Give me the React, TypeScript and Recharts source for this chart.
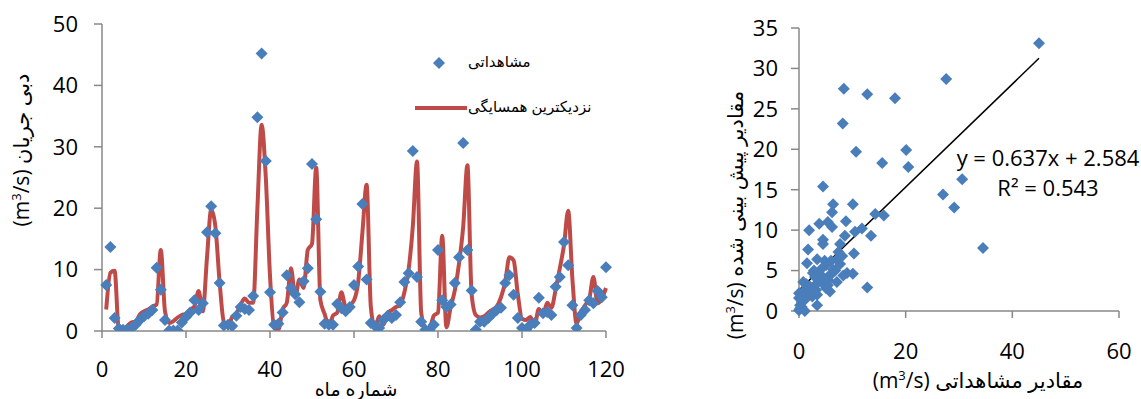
import { ComposedChart, ScatterChart, Scatter, Line, XAxis, YAxis, Legend, ReferenceLine } from "recharts"

// monthly discharge, observed vs nearest-neighbour estimate (months 1..120)
const observed = [
  7.5, 13.7, 2.1, 0.4, 0.2, 0.2, 0.5, 1.0, 1.8, 2.4,
  2.8, 3.4, 10.3, 6.7, 1.8, 0.1, 0.1, 0.1, 1.4, 2.3,
  3.0, 5.0, 3.4, 4.5, 16.1, 20.3, 15.9, 7.8, 0.9, 1.0,
  0.8, 2.5, 3.9, 3.6, 3.4, 5.7, 34.8, 45.2, 27.7, 6.3,
  1.0, 1.2, 3.0, 9.1, 7.0, 6.0, 4.7, 8.1, 10.2, 27.2,
  18.2, 6.4, 1.2, 1.0, 1.0, 4.4, 3.7, 3.2, 3.9, 7.5,
  10.5, 20.7, 8.4, 1.3, 0.8, 0.5, 1.8, 2.5, 2.1, 2.6,
  4.7, 8.0, 9.4, 29.3, 8.8, 1.5, 0.2, 0.2, 1.0, 13.2,
  5.0, 3.9, 4.3, 7.8, 12.0, 30.6, 13.2, 6.6, 0.2, 1.5,
  1.5, 2.1, 2.8, 3.4, 3.8, 7.8, 9.1, 5.9, 2.1, 0.5,
  0.2, 1.0, 1.3, 5.4, 2.9, 3.1, 2.6, 7.2, 8.8, 14.5,
  10.7, 4.2, 0.5, 2.6, 3.4, 5.0, 4.5, 6.5, 5.5, 10.4,
]

const predicted = [
  3.5, 9.5, 9.8, 0.3, 0.2, 0.8, 1.4, 1.5, 2.7, 3.2,
  3.5, 4.0, 4.3, 13.2, 3.2, 1.3, 1.6, 2.2, 2.6, 2.8,
  3.5, 4.0, 6.5, 3.2, 12.0, 19.8, 17.0, 8.0, 1.5, 0.8,
  2.3, 2.8, 4.3, 5.3, 4.6, 4.6, 20.0, 33.6, 25.0, 9.0,
  0.5, 0.2, 3.5, 4.6, 10.2, 5.5, 8.4, 7.0, 13.2, 14.2,
  26.6, 5.0, 2.8, 0.8, 2.5, 3.0, 6.3, 4.0, 4.2, 5.0,
  8.0, 16.0, 23.8, 4.0, 0.5, 2.4, 1.0, 2.9, 3.4, 3.9,
  4.2, 6.3, 10.0, 17.0, 27.6, 3.0, 0.4, 0.5, 2.5, 3.0,
  15.5, 0.6, 3.8, 6.6, 11.0, 17.0, 27.0, 6.0, 2.6, 2.2,
  2.4, 3.0, 3.5, 4.0, 5.5, 8.0, 12.0, 11.5, 6.0, 2.0,
  1.8, 2.3, 0.9, 3.6, 2.6, 4.6, 3.8, 6.7, 10.2, 14.0,
  19.6, 8.5, 1.2, 3.0, 4.2, 5.2, 8.8, 4.5, 5.3, 7.0,
]

const monthTicks = [0, 20, 40, 60, 80, 100, 120]
const flowTicks = [0, 10, 20, 30, 40, 50]

// scatter of observed (x) vs predicted (y)
const scatterObs = [
  45.0, 27.6, 8.4, 12.8, 18.0, 8.2, 10.7, 20.1, 15.6, 20.5,
  4.5, 30.6, 27.0, 29.1, 34.5, 6.4, 6.2, 10.1, 14.3, 15.9,
  3.8, 5.4, 6.2, 8.8, 1.9, 11.8, 10.5, 8.6, 13.5, 4.5,
  4.5, 7.7, 1.7, 10.3, 8.1, 3.4, 7.1, 1.5, 5.1, 7.7,
  4.3, 6.4, 9.0, 10.1, 2.6, 5.4, 7.1, 0.8, 4.3, 2.1,
  5.1, 0.0, 0.8, 3.4, 12.8, 0.0, 1.1, 3.4, 0.2, 0.0,
  1.1, 0.5, 1.7, 5.4, 8.3, 2.0, 3.0, 2.5, 1.0, 0.5,
  4.0, 5.5, 6.0, 3.6, 6.8, 4.8, 2.8, 0.3, 1.4, 3.2,
  0.2, 6.0, 7.4, 3.0, 5.8,
]
const scatterPred = [
  33.1, 28.7, 27.5, 26.8, 26.3, 23.2, 19.7, 19.9, 18.3, 17.8,
  15.4, 16.3, 14.4, 12.8, 7.8, 13.2, 12.2, 13.2, 12.0, 11.8,
  10.8, 11.0, 10.4, 11.1, 10.0, 10.2, 9.8, 9.3, 9.3, 8.8,
  8.3, 8.3, 7.6, 7.1, 6.8, 6.4, 6.4, 5.9, 5.7, 5.8,
  5.3, 5.1, 4.7, 4.6, 4.7, 4.2, 3.6, 3.6, 3.5, 3.0,
  2.8, 2.2, 2.4, 2.0, 2.9, 1.6, 1.4, 0.7, 0.7, 0.1,
  0.0, 1.1, 2.8, 3.2, 4.4, 2.5, 3.2, 1.8, 2.0, 0.5,
  4.5, 3.8, 4.5, 4.0, 5.0, 6.2, 5.0, 1.5, 3.3, 2.6,
  0.3, 6.2, 7.3, 4.2, 2.4,
]
const obsTicks = [0, 20, 40, 60]
const predTicks = [0, 5, 10, 15, 20, 25, 30, 35]

const slope = 0.637
const intercept = 2.584
const r2 = 0.543
const fitRange = [0, 45]

const series = observed.map((v, i) => ({ month: i + 1, obs: v, pred: predicted[i] }))
const points = scatterObs.map((x, i) => ({ x, y: scatterPred[i] }))

const BLUE = "#4A7EBB"
const RED = "#BE4B48"
const GRAY = "#888888"
const FONT = "'Open Sans', 'DejaVu Sans', sans-serif"
const tickStyle = { fill: "#000", fontSize: 22, fontFamily: FONT }

const Diamond = (props: any) => {
  const { cx, cy } = props
  if (cx == null || cy == null) return null
  const r = 6
  return <path d={`M${cx},${cy - r}L${cx + r},${cy}L${cx},${cy + r}L${cx - r},${cy}Z`} fill={BLUE} />
}

const renderLegend = () => (
  <div style={{ position: "relative", width: 210, height: 80, fontFamily: FONT, fontSize: 15, color: "#000" }}>
    <svg width={70} height={80} style={{ position: "absolute", left: 0, top: 0 }}>
      <path d="M34,12L40,18L34,24L28,18Z" fill={BLUE} />
      <line x1={10} y1={63} x2={62} y2={63} stroke={RED} strokeWidth={4} />
    </svg>
    <div style={{ position: "absolute", left: 63, top: 6, whiteSpace: "nowrap" }}>مشاهداتی</div>
    <div style={{ position: "absolute", left: 63, top: 51, whiteSpace: "nowrap" }}>نزدیکترین همسایگی</div>
  </div>
)

function TimeSeriesChart() {
  return (
    <ComposedChart width={640} height={399} data={series} margin={{ top: 24, right: 34, bottom: 28, left: 0 }}>
      <XAxis
        dataKey="month"
        type="number"
        domain={[0, 120]}
        ticks={monthTicks}
        interval={0}
        height={40}
        tick={tickStyle}
        tickSize={7}
        tickMargin={23}
        axisLine={{ stroke: GRAY, strokeWidth: 1.5 }}
        tickLine={{ stroke: GRAY, strokeWidth: 1.5 }}
      />
      <YAxis
        type="number"
        domain={[0, 50]}
        ticks={flowTicks}
        interval={0}
        width={102}
        tick={tickStyle}
        tickSize={8}
        tickMargin={16}
        axisLine={{ stroke: GRAY, strokeWidth: 1.5 }}
        tickLine={{ stroke: GRAY, strokeWidth: 1.5 }}
        allowDataOverflow
      />
      <Legend
        layout="vertical"
        align="center"
        verticalAlign="middle"
        wrapperStyle={{ top: 45, left: 405, width: 210 }}
        content={renderLegend}
      />
      <Scatter dataKey="obs" shape={Diamond} isAnimationActive={false} />
      <Line
        dataKey="pred"
        type="monotone"
        stroke={RED}
        strokeWidth={4}
        dot={false}
        activeDot={false}
        isAnimationActive={false}
      />
    </ComposedChart>
  )
}

function ScatterFitChart() {
  return (
    <ScatterChart width={481} height={399} margin={{ top: 28, right: 22, bottom: 40, left: 0 }}>
      <XAxis
        dataKey="x"
        type="number"
        domain={[0, 60]}
        ticks={obsTicks}
        interval={0}
        height={48}
        tick={tickStyle}
        tickSize={7}
        tickMargin={25}
        axisLine={{ stroke: GRAY, strokeWidth: 1.5 }}
        tickLine={{ stroke: GRAY, strokeWidth: 1.5 }}
      />
      <YAxis
        dataKey="y"
        type="number"
        domain={[0, 35]}
        ticks={predTicks}
        interval={0}
        width={139}
        tick={tickStyle}
        tickSize={8}
        tickMargin={13}
        axisLine={{ stroke: GRAY, strokeWidth: 1.5 }}
        tickLine={{ stroke: GRAY, strokeWidth: 1.5 }}
      />
      <Scatter data={points} shape={Diamond} isAnimationActive={false} />
      <ReferenceLine
        segment={[
          { x: fitRange[0], y: slope * fitRange[0] + intercept },
          { x: fitRange[1], y: slope * fitRange[1] + intercept },
        ]}
        stroke="#000"
        strokeWidth={1.5}
      />
    </ScatterChart>
  )
}

function Titles() {
  const t = { fontFamily: FONT, fontSize: 21, fill: "#000" }
  return (
    <svg width={1141} height={399} style={{ position: "absolute", left: 0, top: 0, pointerEvents: "none" }}>
      <text {...t} transform="translate(29,150) rotate(-90)" textAnchor="middle">
        (m<tspan fontSize={13} dy={-8}>3</tspan>
        <tspan dy={8}>/s) دبی جریان</tspan>
      </text>
      <text {...t} fontSize={19} x={356} y={396} textAnchor="middle">شماره ماه</text>
      <text {...t} transform="translate(743,215) rotate(-90)" textAnchor="middle">
        (m<tspan fontSize={13} dy={-8}>3</tspan>
        <tspan dy={8}>/s) مقادیر پیش بینی شده</tspan>
      </text>
      <text {...t} x={978} y={388} textAnchor="middle">
        (m<tspan fontSize={13} dy={-8}>3</tspan>
        <tspan dy={8}>/s) مقادیر مشاهداتی</tspan>
      </text>
      <text {...t} fontSize={22} x={1048} y={166} textAnchor="middle">
        {`y = ${slope}x + ${intercept}`}
      </text>
      <text {...t} fontSize={22} x={1048} y={196} textAnchor="middle">
        {`R² = ${r2}`}
      </text>
    </svg>
  )
}

export default function App() {
  return (
    <div style={{ position: "absolute", left: 0, top: 0, width: 1141, height: 399, background: "#fff", overflow: "hidden" }}>
      <div style={{ position: "absolute", left: 0, top: 0 }}>
        <TimeSeriesChart />
      </div>
      <div style={{ position: "absolute", left: 660, top: 0 }}>
        <ScatterFitChart />
      </div>
      <Titles />
    </div>
  )
}
